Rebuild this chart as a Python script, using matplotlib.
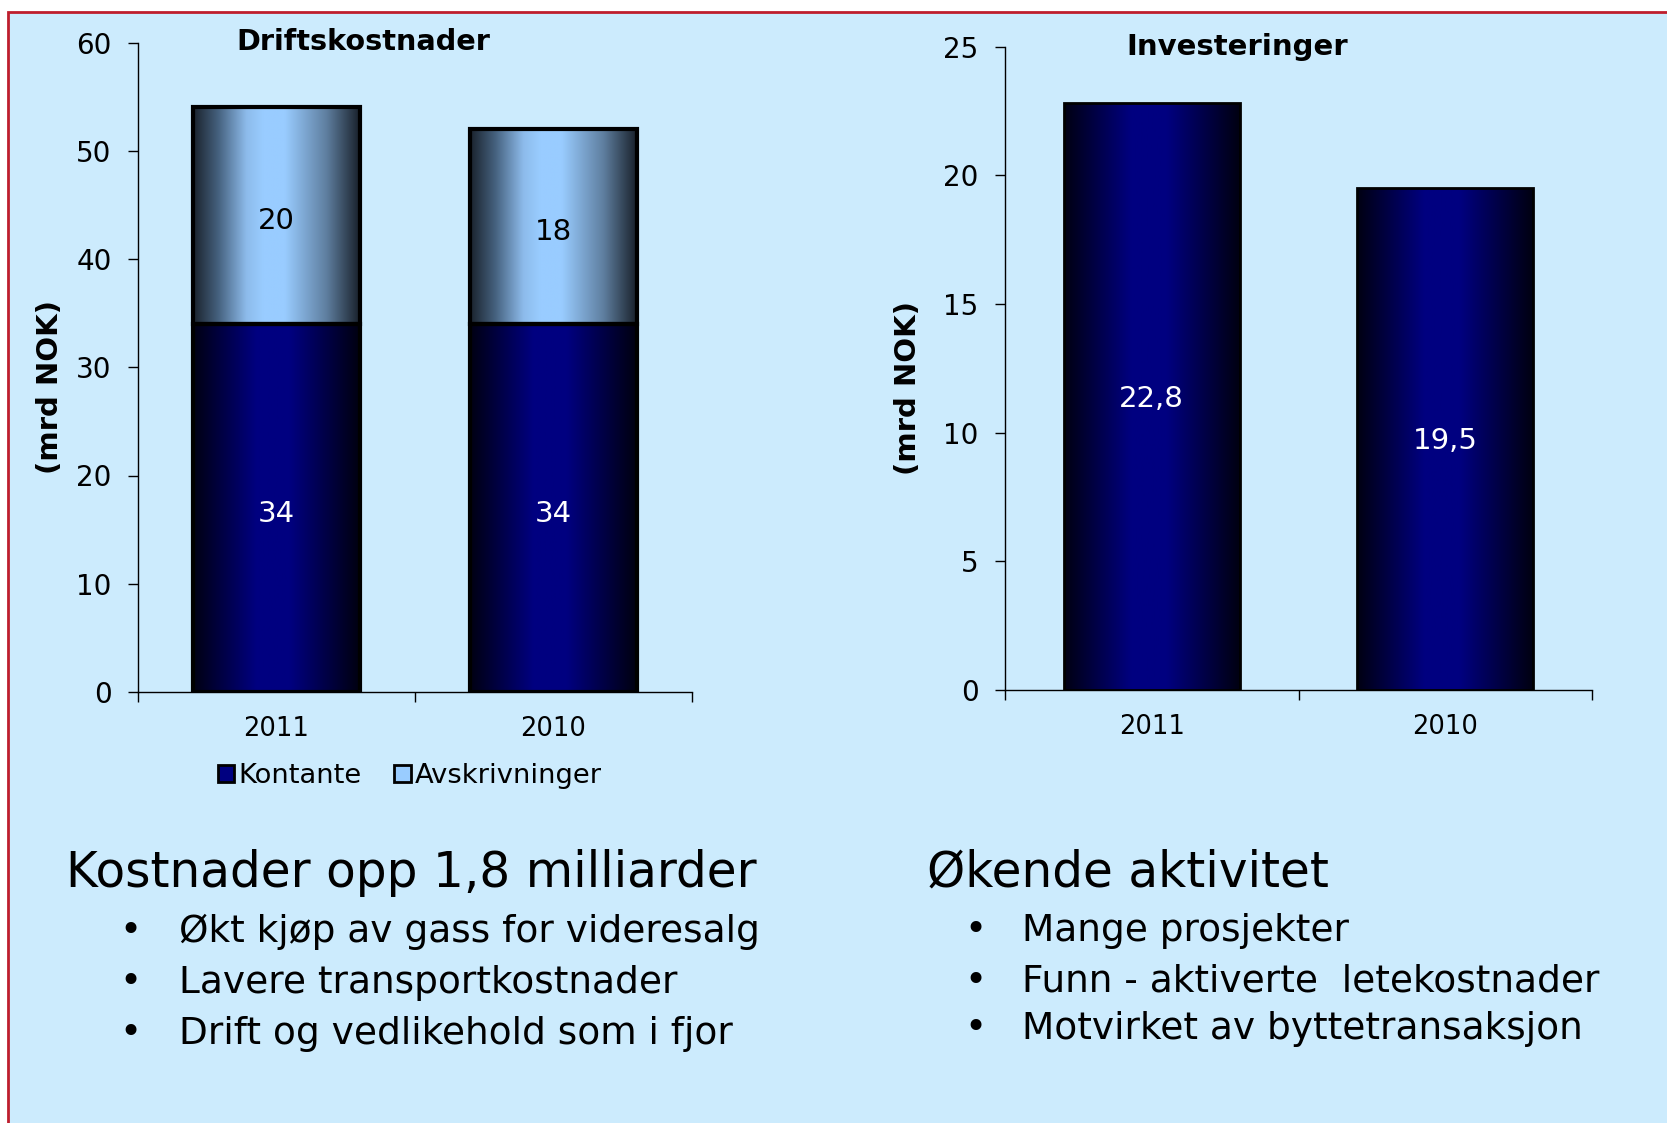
import numpy as np
import matplotlib

matplotlib.use("Agg")
import matplotlib.pyplot as plt
from matplotlib.colors import LinearSegmentedColormap
from matplotlib.patches import Rectangle

plt.rcParams["font.family"] = ["DejaVu Sans"]

# data
years = ["2011", "2010"]
kontante = [34, 34]
avskrivninger = [20, 18]
investeringer = [22.8, 19.5]
invest_labels = ["22,8", "19,5"]

BG = "#CCEBFD"
W, H = 1667, 1123

navy_cmap = LinearSegmentedColormap.from_list(
    "navy", [(0, "#000012"), (0.38, "#000080"), (0.58, "#000080"), (1, "#000010")])
light_cmap = LinearSegmentedColormap.from_list(
    "light", [(0, "#1a222c"), (0.15, "#45617e"), (0.32, "#8dbbeb"), (0.42, "#99ccff"),
              (0.55, "#99ccff"), (0.8, "#5f7fa0"), (1, "#19212b")])
grad = np.linspace(0, 1, 256).reshape(1, -1)


def shade(ax, bars, cmap, lw):
    """gradient fill inside each bar, outline on top"""
    for b in bars:
        x0, y0, w, h = b.get_x(), b.get_y(), b.get_width(), b.get_height()
        ax.imshow(grad, extent=[x0, x0 + w, y0, y0 + h], aspect="auto", cmap=cmap,
                  zorder=2, interpolation="bilinear")
        b.set_facecolor("none")
        b.set_edgecolor("black")
        b.set_linewidth(lw)
        b.set_zorder(3)


def style(ax, ymax, ystep):
    ax.set_facecolor("none")
    for s in ("top", "right"):
        ax.spines[s].set_visible(False)
    ax.spines["left"].set_linewidth(1)
    ax.spines["bottom"].set_linewidth(1)
    ax.set_xlim(-0.5, 1.5)
    ax.set_ylim(0, ymax)
    ax.set_yticks(np.arange(0, ymax + 1, ystep))
    ax.set_xticks(range(len(years)))
    ax.set_xticklabels(years, fontsize=18.5)
    ax.set_xticks([-0.5, 0.5, 1.5], minor=True)
    ax.tick_params(axis="x", which="major", length=0, pad=17)
    ax.tick_params(axis="x", which="minor", length=7, width=1)
    ax.tick_params(axis="y", length=7, width=1, labelsize=20, pad=12)


def label(ax, x, y, s, color, dy=-4):
    ax.annotate(s, (x, y), xytext=(0, dy), textcoords="offset points", ha="center",
                va="center", color=color, fontsize=21, zorder=4)


fig = plt.figure(figsize=(W / 100, H / 100), dpi=100)
fig.patch.set_facecolor("white")
fig.patches.append(Rectangle((8 / W, -0.05), 1.1, 1 - 12 / H + 0.05, transform=fig.transFigure,
                             facecolor=BG, edgecolor="#BE1E2D", linewidth=2, zorder=-1))

# left: Driftskostnader
ax1 = fig.add_axes([138 / W, 1 - 692 / H, 554 / W, 649.5 / H])
x = np.arange(len(years))
b1 = ax1.bar(x, kontante, width=0.6, label="Kontante")
b2 = ax1.bar(x, avskrivninger, width=0.6, bottom=kontante, label="Avskrivninger")
shade(ax1, b1, navy_cmap, 3)
shade(ax1, b2, light_cmap, 3)
style(ax1, 60, 10)
for i in range(len(years)):
    label(ax1, x[i], kontante[i] / 2, str(kontante[i]), "white")
    label(ax1, x[i], kontante[i] + avskrivninger[i] / 2, str(avskrivninger[i]), "black")
ax1.set_ylabel("(mrd NOK)", fontsize=21, fontweight="bold")
ax1.yaxis.set_label_coords(-0.133, 0.47)
ax1.text(0.314, 60, "Driftskostnader", ha="center", va="center", fontsize=20.7,
         fontweight="bold")

handles = [Rectangle((0, 0), 1, 1, facecolor="#000080", edgecolor="black", linewidth=2),
           Rectangle((0, 0), 1, 1, facecolor="#99ccff", edgecolor="black", linewidth=2)]
fig.legend(handles, ["Kontante", "Avskrivninger"], loc="center", ncol=2,
           bbox_to_anchor=(410 / W, 1 - 776 / H), frameon=False, fontsize=19.7,
           handlelength=0.6, handleheight=0.6, handletextpad=0.15, columnspacing=1.2)

# right: Investeringer
ax2 = fig.add_axes([1005 / W, 1 - 690 / H, 587 / W, 643.2 / H])
b3 = ax2.bar(x, investeringer, width=0.6)
shade(ax2, b3, navy_cmap, 2)
style(ax2, 25, 5)
for i in range(len(years)):
    label(ax2, x[i], investeringer[i] / 2, invest_labels[i], "white", dy=-1.5)
ax2.set_ylabel("(mrd NOK)", fontsize=21, fontweight="bold")
ax2.yaxis.set_label_coords(-0.141, 0.47)
ax2.text(0.292, 25, "Investeringer", ha="center", va="center", fontsize=21,
         fontweight="bold")

# text below the charts
def fy(py):
    return 1 - py / H

fig.text(66 / W, fy(873), "Kostnader opp 1,8 milliarder", fontsize=35, va="center")
left_items = ["Økt kjøp av gass for videresalg", "Lavere transportkostnader",
              "Drift og vedlikehold som i fjor"]
for py, t in zip([932, 983, 1034], left_items):
    fig.text(130 / W, fy(py), "•", fontsize=27, va="center", ha="center")
    fig.text(179 / W, fy(py), t, fontsize=27, va="center")

fig.text(927 / W, fy(873), "Økende aktivitet", fontsize=35, va="center")
right_items = ["Mange prosjekter", "Funn - aktiverte  letekostnader",
               "Motvirket av byttetransaksjon"]
for py, t in zip([931, 982, 1029], right_items):
    fig.text(975 / W, fy(py), "•", fontsize=27, va="center", ha="center")
    fig.text(1022 / W, fy(py), t, fontsize=27, va="center")

fig.savefig("out.png", dpi=100, facecolor=fig.get_facecolor())
